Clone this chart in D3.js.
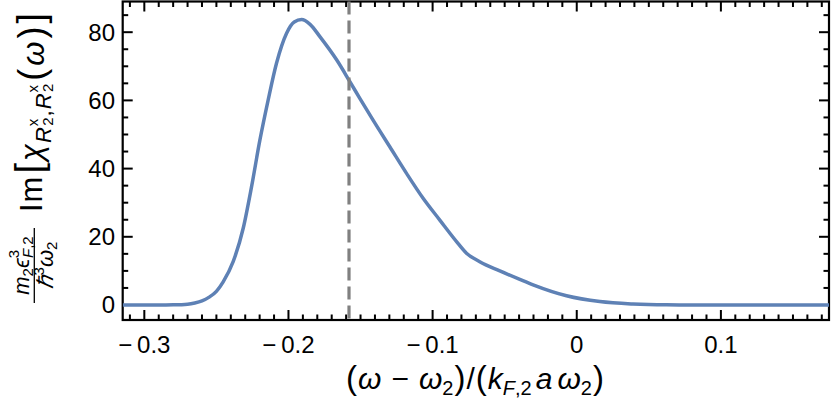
<!DOCTYPE html>
<html>
<head>
<meta charset="utf-8">
<script src="https://cdn.jsdelivr.net/npm/d3@7"></script>
<style>
  body { margin: 0; background: #fff; }
  svg text { font-family: "Liberation Sans", Arial, sans-serif; fill: #000; }
</style>
</head>
<body>
<div id="chart"></div>
<script>
// curve: x = (w - w2)/(kF a w2), y = scaled Im chi
var xs = [-0.315, -0.29, -0.28, -0.27, -0.265, -0.26, -0.255, -0.25, -0.2453, -0.2383,
          -0.2314, -0.2256, -0.2198, -0.2141, -0.2083, -0.2013, -0.1960, -0.1909, -0.1850, -0.1782,
          -0.1666, -0.1574, -0.1505, -0.1413, -0.1297, -0.1181, -0.1066, -0.0950, -0.0834, -0.0765,
          -0.0673, -0.0534, -0.0395, -0.0303, -0.0071, 0.0160, 0.0390, 0.0622, 0.09, 0.12, 0.175];
var ys = [0, 0, 0.05, 0.25, 0.6, 1.2, 2.3, 4.0, 6.8, 12.8,
          22.5, 34.7, 48.4, 60.1, 70.9, 79.7, 83.0, 83.7, 82.3, 78.7,
          71.9, 65.5, 60.6, 54.2, 46.4, 38.6, 31.3, 24.9, 18.6, 15.2,
          12.7, 10.0, 7.5, 5.9, 2.7, 1.0, 0.3, 0.05, 0, 0, 0];

var xMajor = [-0.3, -0.2, -0.1, 0, 0.1];
var xLabels = ["\u2212\u20090.3", "\u2212\u20090.2", "\u2212\u20090.1", "0", "0.1"];
var yMajor = [0, 20, 40, 60, 80];
var yLabels = ["0", "20", "40", "60", "80"];
var markerX = -0.158;

var width = 831, height = 413;
var mLeft = 122.7, mRight = 829, mTop = 1.5, mBottom = 320;

var x = d3.scaleLinear().domain([-0.315, 0.175]).range([mLeft, mRight]);
var y = d3.scaleLinear().domain([-4.4, 89]).range([mBottom, mTop]);

var xMinor = d3.range(-31, 18).map(function (i) { return i / 100; })
    .filter(function (v) { return Math.abs(Math.round(v * 10) - v * 10) > 1e-6; });
var yMinor = d3.range(0, 90, 5).filter(function (v) { return v % 20 !== 0; });

var svg = d3.select("#chart").append("svg")
    .attr("width", width)
    .attr("height", height);

// frame
svg.append("rect")
    .attr("x", mLeft).attr("y", mTop)
    .attr("width", mRight - mLeft).attr("height", mBottom - mTop)
    .style("fill", "none").style("stroke", "#000").style("stroke-width", 2.2);

// tick marks, drawn inward on all four sides of the frame
function addTicks(vals, len, scale, horizontal) {
    [0, 1].forEach(function (side) {
        svg.append("g").selectAll("rect")
            .data(vals)
            .join("rect")
            .attr("fill", "#000")
            .attr("x", function (d) {
                if (horizontal) return scale(d) - 1;
                return side ? mRight - len : mLeft;
            })
            .attr("y", function (d) {
                if (!horizontal) return scale(d) - 1;
                return side ? mTop : mBottom - len;
            })
            .attr("width", horizontal ? 2 : len)
            .attr("height", horizontal ? len : 2);
    });
}
addTicks(xMajor, 10, x, true);
addTicks(xMinor, 5.5, x, true);
addTicks(yMajor, 10, y, false);
addTicks(yMinor, 5.5, y, false);

svg.append("g").selectAll("text")
    .data(xMajor)
    .join("text")
    .attr("x", function (d) { return x(d); })
    .attr("y", 353)
    .attr("text-anchor", "middle")
    .attr("font-size", 24)
    .text(function (d, i) { return xLabels[i]; });

svg.append("g").selectAll("text")
    .data(yMajor)
    .join("text")
    .attr("x", 115)
    .attr("y", function (d) { return y(d); })
    .attr("dy", "0.35em")
    .attr("text-anchor", "end")
    .attr("font-size", 24)
    .text(function (d, i) { return yLabels[i]; });

svg.append("clipPath").attr("id", "clip")
    .append("rect").attr("x", mLeft).attr("y", mTop)
    .attr("width", mRight - mLeft).attr("height", mBottom - mTop);

var pts = xs.map(function (v, i) { return [v, ys[i]]; });

svg.append("path")
    .datum(pts)
    .attr("clip-path", "url(#clip)")
    .attr("fill", "none")
    .attr("stroke", "#5e81b5")
    .attr("stroke-width", 3.5)
    .attr("d", d3.line()
        .x(function (d) { return x(d[0]); })
        .y(function (d) { return y(d[1]); })
        .curve(d3.curveMonotoneX));

svg.append("line")
    .attr("x1", x(markerX)).attr("x2", x(markerX))
    .attr("y1", mTop).attr("y2", mBottom)
    .attr("stroke", "#808080")
    .attr("stroke-width", 3.2)
    .attr("stroke-dasharray", "13,6");

function piece(t, s, opts) {
    opts = opts || {};
    var ts = t.append("tspan").text(s);
    if (opts.it) ts.attr("font-style", "italic");
    if (opts.size) ts.attr("font-size", opts.size);
    if (opts.dy) ts.attr("dy", opts.dy);
    if (opts.dx) ts.attr("dx", opts.dx);
    return ts;
}

// x label
var xl = svg.append("text")
    .attr("x", 475)
    .attr("y", 389)
    .attr("text-anchor", "middle")
    .attr("font-size", 30);
piece(xl, "(", {size: 33});
piece(xl, "\u03c9", {it: 1, dx: 1});
piece(xl, "\u2212", {dx: 10});
piece(xl, "\u03c9", {it: 1, dx: 10});
piece(xl, "2", {size: 20, dy: 6});
piece(xl, ")", {size: 33, dy: -6, dx: 1});
piece(xl, "/", {dx: 1});
piece(xl, "(", {size: 33, dx: 1});
piece(xl, "k", {it: 1, dx: 1});
piece(xl, "F", {it: 1, size: 20, dy: 6});
piece(xl, ",2", {size: 20});
piece(xl, "a", {it: 1, dy: -6, dx: 4});
piece(xl, "\u03c9", {it: 1, dx: 5});
piece(xl, "2", {size: 20, dy: 6});
piece(xl, ")", {size: 33, dy: -6, dx: 1});

// y label (rotated)
var yg = svg.append("g").attr("transform", "rotate(-90)");
var yl = yg.append("text")
    .attr("x", -212)
    .attr("y", 42)
    .attr("text-anchor", "start")
    .attr("font-size", 31)
    .attr("textLength", 199)
    .attr("lengthAdjust", "spacing");
piece(yl, "Im");
piece(yl, "[", {size: 38, dx: 2});
piece(yl, "\u03c7", {it: 1, dx: 1});
piece(yl, "R", {it: 1, size: 22, dy: 9});
piece(yl, "x", {size: 15, dy: -13});
piece(yl, "2", {size: 15, dy: 15, dx: -8});
piece(yl, ",", {size: 22, dy: -2});
piece(yl, "R", {it: 1, size: 22});
piece(yl, "x", {size: 15, dy: -13});
piece(yl, "2", {size: 15, dy: 15, dx: -8});
piece(yl, "(", {size: 36, dy: -9, dx: 2});
piece(yl, "\u03c9", {it: 1, dx: 2});
piece(yl, ")", {size: 36, dx: 2});
piece(yl, "]", {size: 38, dx: 2});

// fraction
yg.append("line")
    .attr("x1", -303).attr("x2", -228)
    .attr("y1", 34.3).attr("y2", 34.3)
    .attr("stroke", "#000").attr("stroke-width", 1.3);
var num = yg.append("text")
    .attr("x", -265.5).attr("y", 29)
    .attr("text-anchor", "middle")
    .attr("font-size", 22);
piece(num, "m", {it: 1});
piece(num, "2", {size: 15, dy: 4});
piece(num, "\u03f5", {it: 1, dy: -4});
piece(num, "3", {size: 15, dy: -10});
piece(num, "F", {it: 1, size: 15, dy: 14, dx: -8});
piece(num, ",2", {size: 15});
var den = yg.append("text")
    .attr("x", -265.5).attr("y", 53)
    .attr("text-anchor", "middle")
    .attr("font-size", 22);
piece(den, "\u210f", {it: 1});
piece(den, "3", {size: 15, dy: -9});
piece(den, "\u03c9", {it: 1, dy: 9});
piece(den, "2", {size: 15, dy: 4});
</script>
</body>
</html>
